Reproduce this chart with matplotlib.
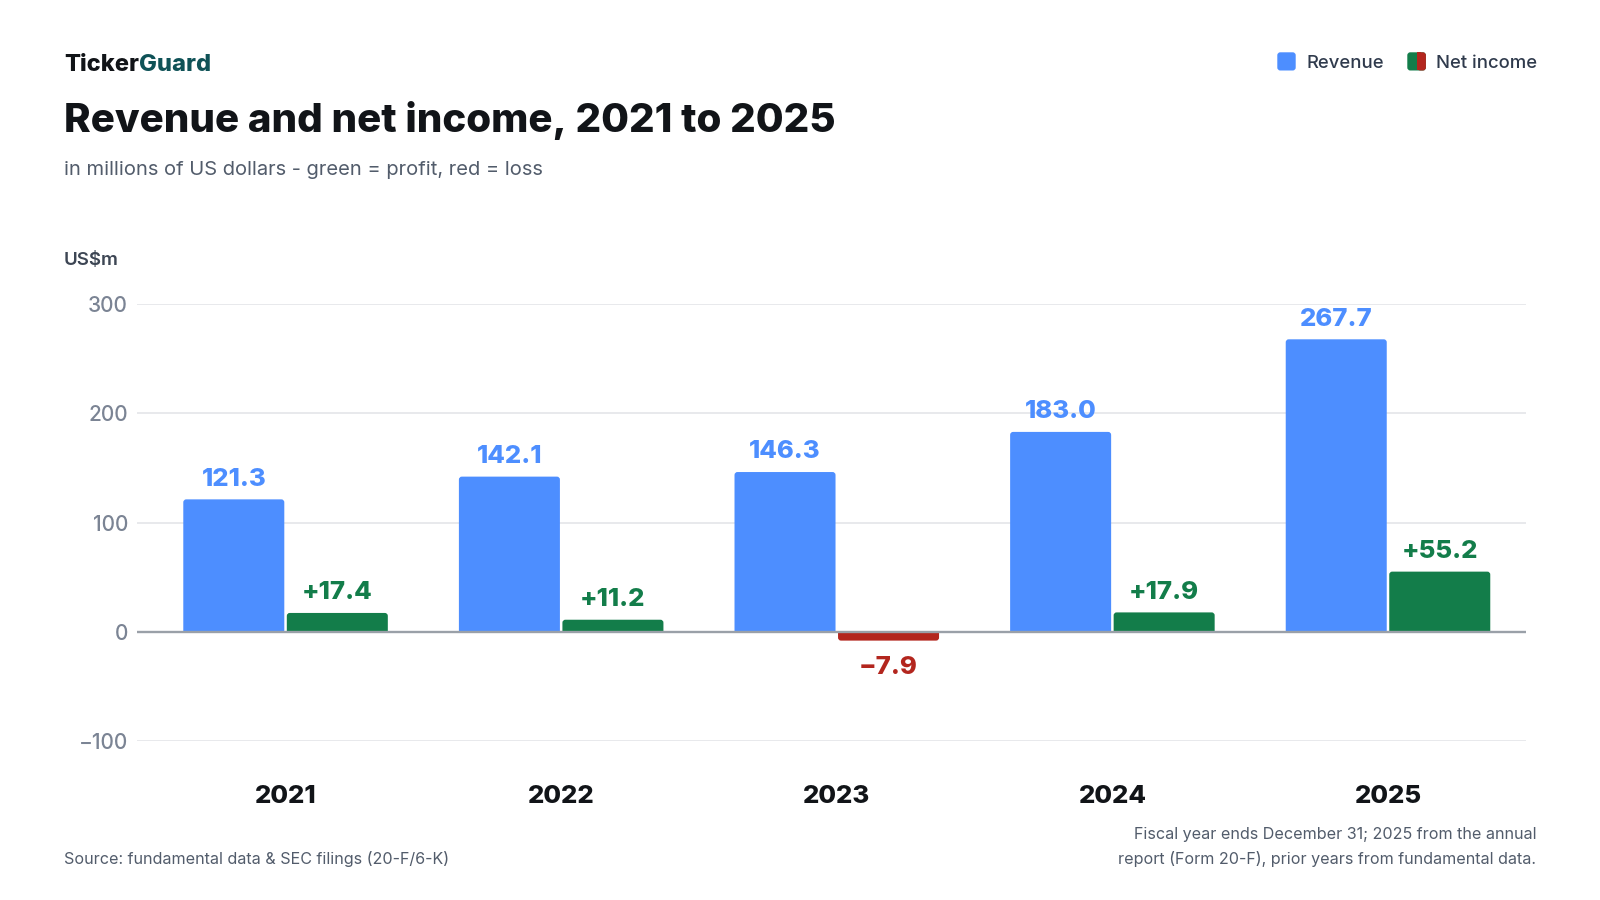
import numpy as np
import matplotlib
matplotlib.use("Agg")
import matplotlib.pyplot as plt
from matplotlib.patches import PathPatch, Rectangle, FancyBboxPatch
from matplotlib.path import Path

plt.rcParams['font.family'] = ['Inter', 'DejaVu Sans']

# data (US$m)
years = ['2021', '2022', '2023', '2024', '2025']
revenue = [121.3, 142.1, 146.3, 183.0, 267.7]
net_income = [17.4, 11.2, -7.9, 17.9, 55.2]
yticks = [-100, 0, 100, 200, 300]

BLUE = '#4D8EFF'
GREEN = '#137D4A'
RED = '#B3261E'
DARK = '#111418'
GREY = '#7B8494'
SUB = '#525C6B'

W, H = 1600, 900
fig = plt.figure(figsize=(16, 9), dpi=100)
fig.patch.set_facecolor('white')

# axes box in pixels: x 137..1526, y 304 (300) .. 741.3 (-100)
ax = fig.add_axes([137/W, 1 - 741.3/H, (1526 - 137)/W, (741.3 - 304)/H])
ax.set_xlim(-0.539, 4.5007)
ax.set_ylim(-100, 300)

x = np.arange(len(years))
w = 0.3665
off = 0.1878

# corner radius (~3 px) in data units
rx = 3 * (ax.get_xlim()[1] - ax.get_xlim()[0]) / (1526 - 137)
ry = 3 * 400 / (741.3 - 304)


def round_bars(bars):
    # swap plain rectangles for ones rounded at the far end
    for r in bars:
        x0 = r.get_x()
        x1 = x0 + r.get_width()
        h = r.get_height()
        base = 0
        end = h
        s = 1 if h >= 0 else -1
        verts = [(x0, base), (x0, end - s*ry), (x0, end), (x0 + rx, end),
                 (x1 - rx, end), (x1, end), (x1, end - s*ry), (x1, base), (x0, base)]
        codes = [Path.MOVETO, Path.LINETO, Path.CURVE3, Path.CURVE3,
                 Path.LINETO, Path.CURVE3, Path.CURVE3, Path.LINETO, Path.CLOSEPOLY]
        ax.add_patch(PathPatch(Path(verts, codes), fc=r.get_facecolor(), ec='none', zorder=3))
        r.set_visible(False)


rev_bars = ax.bar(x - off, revenue, w, color=BLUE, linewidth=0, zorder=3)
ni_colors = [GREEN if v >= 0 else RED for v in net_income]
ni_bars = ax.bar(x + off, net_income, w, color=ni_colors, linewidth=0, zorder=3)
round_bars(rev_bars)
round_bars(ni_bars)

for i in x:
    ax.text(i - off, revenue[i] + 18.5, f'{revenue[i]:.1f}', ha='center', va='center',
            fontsize=18.5, fontweight='heavy', color=BLUE, zorder=5)
    ni = net_income[i]
    c = ni_colors[i]
    if ni >= 0:
        ax.text(i + off, ni + 18.5, f'+{ni:.1f}', ha='center', va='center',
                fontsize=18.5, fontweight='heavy', color=c, zorder=5)
    else:
        ax.text(i + off, ni - 24.5, f'\u2212{abs(ni):.1f}', ha='center', va='center',
                fontsize=18.5, fontweight='heavy', color=c, zorder=5)

ax.set_yticks(yticks)
ax.set_yticklabels([f'\u2212{abs(t)}' if t < 0 else str(t) for t in yticks])
ax.set_xticks(x)
ax.set_xticklabels(years)
for s in ax.spines.values():
    s.set_visible(False)
ax.grid(axis='y', color='#E6E7EA', linewidth=1.3, zorder=0)
ax.axhline(0, color='#9AA0A8', linewidth=1.7, zorder=4)
ax.tick_params(axis='y', length=0, pad=6.5, labelsize=15, labelcolor=GREY)
ax.tick_params(axis='x', length=0, pad=31.5, labelsize=18.5, labelcolor=DARK)
for lab in ax.get_xticklabels():
    lab.set_fontweight('heavy')
for lab in ax.get_yticklabels():
    lab.set_fontweight('medium')

# header
t1 = fig.text(64/W, 1 - 65/H, 'Ticker', fontsize=17, fontweight='heavy', color=DARK,
              ha='left', va='center')
fig.canvas.draw()
bb = t1.get_window_extent()
fig.text(bb.x1/W, 1 - 65/H, 'Guard', fontsize=17, fontweight='heavy', color='#0F5257',
         ha='left', va='center')
fig.text(64/W, 1 - 121/H, 'Revenue and net income, 2021 to 2025', fontsize=29,
         fontweight='heavy', color=DARK, ha='left', va='center')
fig.text(64/W, 1 - 170/H, 'in millions of US dollars - green = profit, red = loss',
         fontsize=14.5, color=SUB, ha='left', va='center')
fig.text(64/W, 1 - 260.5/H, 'US$m', fontsize=13.5, fontweight='semibold', color='#3D4654',
         ha='left', va='center')

# legend, drawn in pixel coordinates
lx = fig.add_axes([0, 0, 1, 1], facecolor='none')
lx.set_xlim(0, W)
lx.set_ylim(H, 0)
lx.axis('off')
lx.add_patch(FancyBboxPatch((1277.3, 52.3), 18.4, 18.2, boxstyle="round,pad=0,rounding_size=3",
                            fc=BLUE, ec='none'))
lx.text(1306, 63.5, 'Revenue', fontsize=13.3, fontweight='medium', color='#2F3A4C', va='center')
lx.add_patch(FancyBboxPatch((1407.3, 52.3), 18.6, 18.2, boxstyle="round,pad=0,rounding_size=3",
                            fc=GREEN, ec='none'))
lx.add_patch(FancyBboxPatch((1417.3, 52.3), 8.6, 18.2, boxstyle="round,pad=0,rounding_size=3",
                            fc=RED, ec='none'))
lx.add_patch(Rectangle((1417.3, 52.3), 4, 18.2, fc=RED, ec='none'))
lx.text(1436, 63.5, 'Net income', fontsize=13.3, fontweight='medium', color='#2F3A4C', va='center')

# footer
fig.text(64/W, 1 - 859/H, 'Source: fundamental data & SEC filings (20-F/6-K)',
         fontsize=11.6, color=SUB, ha='left', va='center')
fig.text(1536/W, 1 - 847/H,
         'Fiscal year ends December 31; 2025 from the annual\n'
         'report (Form 20-F), prior years from fundamental data.',
         fontsize=11.6, color=SUB, ha='right', va='center', linespacing=1.75,
         multialignment='right')

fig.savefig('out.png', dpi=100, facecolor='white')
